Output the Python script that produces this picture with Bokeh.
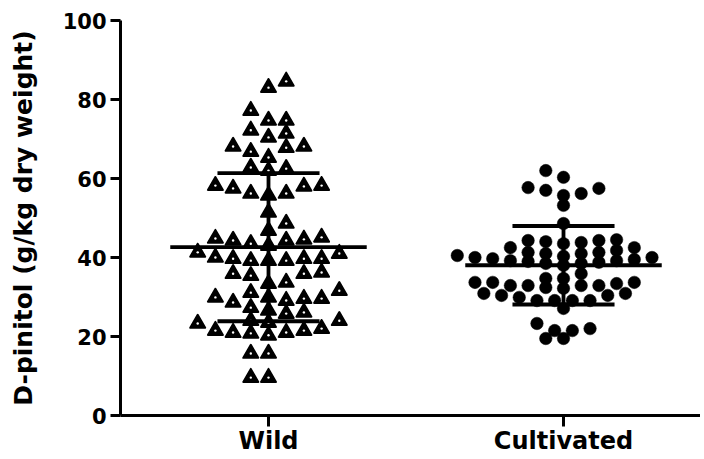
import numpy as np
from bokeh.plotting import figure
from bokeh.models import FixedTicker
from bokeh.embed import file_html
from bokeh.resources import INLINE

categories = ["Wild", "Cultivated"]
y_ticks = [0, 20, 40, 60, 80, 100]

wild = [84.6, 83.0, 77.2, 74.7, 74.7, 72.2, 71.4, 70.4, 68.1, 68.1, 67.8, 66.8, 65.3,
        62.8, 62.5, 62.0, 58.2, 58.0, 58.2, 57.5, 56.2, 55.7, 56.2, 51.4, 48.6, 46.8,
        44.3, 44.3, 44.6, 44.8, 45.1,
        43.5, 43.0, 41.3, 41.0,
        39.7, 39.7, 39.2, 39.2, 39.2, 39.7, 40.0,
        36.2, 35.9, 35.4, 35.9,
        33.4, 33.7,
        31.1, 31.6,
        29.6, 28.6, 27.3, 29.1, 29.9, 29.6, 29.9,
        24.0, 23.3, 25.8, 26.1, 26.6, 23.5, 24.0,
        22.0, 21.0, 20.8, 20.3, 21.0, 21.5, 21.5,
        15.7, 15.7,
        9.6, 9.6]

cultivated = [62.0, 60.3, 57.7, 57.5, 57.0, 56.2, 55.7, 53.2, 48.6,
              44.3, 44.0, 43.5, 42.5, 42.5, 43.8, 44.3, 44.5,
              41.8, 41.3, 41.0, 40.3, 40.5, 41.0, 41.3,
              40.0, 39.7, 39.2, 39.0, 38.0, 38.5, 38.5, 38.8, 39.2, 39.5, 40.0,
              35.9,
              34.7, 33.7, 33.7, 32.9, 32.9, 32.4, 32.9, 32.9, 33.4, 33.7, 34.7,
              30.9, 30.4, 29.9, 29.1, 29.1, 29.1, 29.1, 30.4, 30.9, 32.2,
              27.1,
              22.0, 21.5, 19.5, 19.5, 21.5, 23.3]

# layout constants
W, H = 700, 458
FL, FR, FT = 120, 0, 20
frame_w = W - FL - FR
frame_h = 395
x0_px = 148.0
px_per_x = 295.0
px_per_y = frame_h / 100.0
x_start = 1 - x0_px / px_per_x
x_end = 1 + (frame_w - x0_px) / px_per_x


def swarm(vals, sx, sy, step):
    vals = np.asarray(vals, dtype=float)
    order = np.argsort(vals, kind="stable")
    placed = []
    offs = np.zeros(len(vals))
    for n, i in enumerate(order):
        y = vals[i] * px_per_y
        cands = [0]
        for m in range(1, 60):
            cands += [m, -m] if n % 2 == 0 else [-m, m]
        for c in cands:
            x = c * step
            if all(((x - qx) / sx) ** 2 + ((y - qy) / sy) ** 2 >= 1 for qx, qy in placed):
                break
        placed.append((x, y))
        offs[i] = x
    return offs / px_per_x


p = figure(width=W, height=H, output_backend="svg", toolbar_location=None,
           x_range=(x_start, x_end), y_range=(0, 100),
           min_border_left=FL, min_border_right=FR, min_border_top=FT,
           min_border_bottom=H - FT - frame_h)
p.outline_line_color = None
p.grid.visible = False
p.background_fill_color = "white"

wx = 1 + swarm(wild, 17.5, 12.0, 8.85)
cx = 2 + swarm(cultivated, 17.5, 9.0, 8.85)

p.scatter(wx, wild, marker="triangle", size=15, fill_color="black",
          line_color="black", line_width=2, line_join="round")
p.scatter(wx, wild, marker="circle", size=2.4, fill_color="white", line_color=None)
p.scatter(cx, cultivated, marker="circle", size=12.5, fill_color="black",
          line_color="black", line_width=0.5)

for xc, vals in ((1, wild), (2, cultivated)):
    m = float(np.mean(vals))
    s = float(np.std(vals, ddof=1))
    p.segment([xc - 0.333], [m], [xc + 0.333], [m], line_color="black", line_width=3.8)
    p.segment([xc - 0.173, xc - 0.173], [m + s, m - s], [xc + 0.173, xc + 0.173],
              [m + s, m - s], line_color="black", line_width=3.8)
    p.segment([xc], [m - s], [xc], [m + s], line_color="black", line_width=3.8)

font = "DejaVu Sans"
p.yaxis.ticker = FixedTicker(ticks=y_ticks)
p.xaxis.ticker = FixedTicker(ticks=[1, 2])
p.xaxis.major_label_overrides = {1: categories[0], 2: categories[1]}
p.yaxis.axis_label = "D-pinitol (g/kg dry weight)"
for ax in (p.xaxis, p.yaxis):
    ax.axis_line_width = 3
    ax.axis_line_color = "black"
    ax.major_tick_line_width = 3
    ax.major_tick_line_color = "black"
    ax.major_tick_in = 0
    ax.minor_tick_line_color = None
    ax.major_label_text_font = font
    ax.major_label_text_font_style = "bold"
    ax.major_label_text_color = "black"
    ax.axis_label_text_font = font
    ax.axis_label_text_font_style = "bold"
    ax.axis_label_text_color = "black"
p.yaxis.major_tick_out = 10
p.xaxis.major_tick_out = 11
p.xaxis.major_label_text_font_size = "24px"
p.xaxis.major_label_standoff = 0
p.yaxis.major_label_text_font_size = "21px"
p.yaxis.axis_label_text_font_size = "25px"
p.yaxis.axis_label_standoff = 22
p.yaxis.major_label_standoff = 4

open("out.html", "w").write(file_html(p, INLINE))
